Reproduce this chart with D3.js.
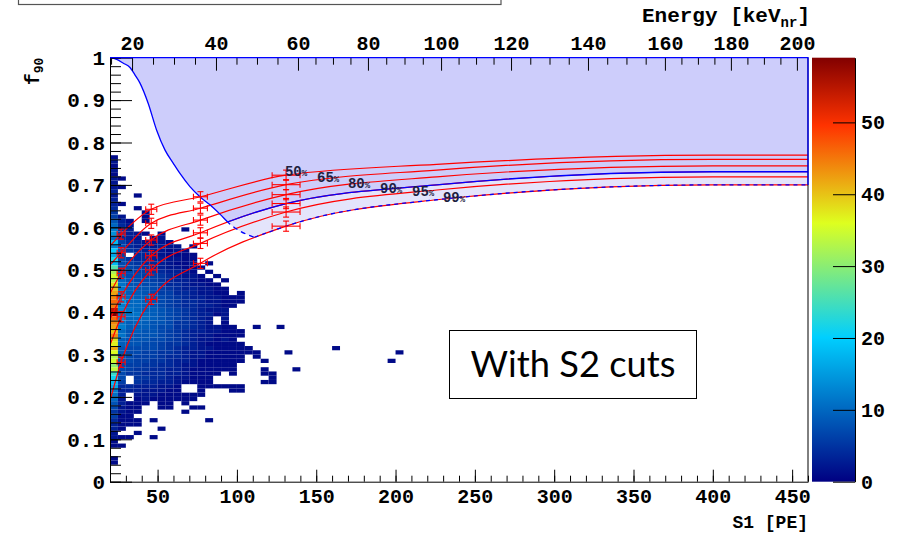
<!DOCTYPE html>
<html>
<head>
<meta charset="utf-8">
<script src="https://cdn.jsdelivr.net/npm/d3@7"></script>
<style>
  html, body { margin: 0; padding: 0; background: #fff; }
  svg { display: block; }
  text { font-family: "Liberation Mono", "DejaVu Sans Mono", monospace; font-weight: bold; }
</style>
</head>
<body>
<svg id="chart" width="902" height="535"></svg>
<script>
// ---------------- data ----------------
const s1Domain = [20, 460];
const f90Domain = [0, 1];
const s1Ticks = [50, 100, 150, 200, 250, 300, 350, 400, 450];
const s1MinorStep = 10;
const f90Ticks = [0, 0.1, 0.2, 0.3, 0.4, 0.5, 0.6, 0.7, 0.8, 0.9, 1];
const f90MinorStep = 0.02;

// nuclear-recoil energy axis (top): energy ticks and the S1 they sit at
const energyTicks  = [20, 40, 60, 80, 100, 120, 140, 160, 180, 200];
const energyTickS1 = [33.9, 86.8, 138.5, 182.6, 228.7, 272.8, 321.3, 369.8, 411.4, 453.0];
const energyMinorStep = 5;

// colour scale of the event histogram
const zMax = 59;
const zTicks = [0, 10, 20, 30, 40, 50];

// 2D event histogram: S1 bins of 5 PE from 20 PE, f90 bins of 0.01.
// One string per f90 row, from row 76 (f90 0.76-0.77) down to row 4.
// Each character is a bin count: '.'=0, 0-9, a-z = 10-35, A-X = 36-59.
const histS1Start = 20;
const histS1Bin = 5;
const histF90Bin = 0.01;
const histTopRow = 76;
const histRows = [
  "1", "2", "1", "2", "1", "21", "2", "21", "3", "2..1",
  "3", "31", "4..1", "5...1", "62..1", "831.1", "a42", "c53......1", "e6321.1", "a432.12",
  "i6432221", "c74322322.1", "k854332121", "g6.44321111", "m7544332211", "i7654432112.1",
  "q87654322111", "w8766543321.1", "z97766543221.1", "xa87765433211.1",
  "Cb887764432211", "Eb9887654332211", "Gc9987664432211.1", "Ida99876543322111",
  "Keaa9876544322111", "Jcaa987654433211", "Tdba99876543222", "Xcbba9876543312",
  "Kdaaa98765432.2", "Ib9a988755432.1", "Gc99987755432211..1..1", "Ea898876543322111",
  "Ib888876543221111", "C988877654322121", "B9887765543211111",
  "G87777654332211111..........1",
  "A877665543221111111...1.............1",
  "x8766654432211111.1",
  "z8766554332111111..1...............1",
  "u766554432211111", "y765544332111111...1...1", "o7554443321111.1...11",
  "l7.5544322111.......1", "i6.5443321111......11", "g44333221..111111",
  "c33322211..1...11", "b3.222111111", "a2.12111111", "83111.11.1", "7211..11..11",
  "5211.....1", "611", "4111.1......1", "3111", "31....1", "2..1", "211..1",
  "1", "11", "", "", "1", "1"
];

// nuclear-recoil acceptance contours (f90 versus S1)
const accNames = ["50%", "65%", "80%", "90%", "95%", "99%"];
const accS1    = [20, 27, 46, 77, 131, 226, 400, 460];
const acc50 = [0.556, 0.584, 0.6425, 0.672, 0.7229, 0.7486, 0.770, 0.770];
const acc65 = [0.511, 0.540, 0.6094, 0.645, 0.7005, 0.735, 0.760, 0.760];
const acc80 = [0.444, 0.4915, 0.570, 0.617, 0.677, 0.719, 0.745, 0.745];
const acc90 = [0.383, 0.436, 0.533, 0.587, 0.656, 0.700, 0.731, 0.731];
const acc95 = [0.322, 0.389, 0.4993, 0.562, 0.636, 0.688, 0.719, 0.719];
const acc99 = [0.191, 0.2816, 0.430, 0.515, 0.6027, 0.665, 0.700, 0.700];
// measured points on the contours: S1 half-width and f90 half-width of the error bars
const accS1Err = [0, 2.5, 3.5, 4.4, 8.8, 0, 0, 0];
const accF90Err = 0.012;
// contour label anchors
const accLabelS1  = [130.3, 150.5, 170.0, 190.2, 210.4, 229.9];
const accLabelF90 = [0.721, 0.707, 0.6927, 0.681, 0.673, 0.660];

// electron-recoil leakage boundary
const leakS1  = [20, 24.2, 28.4, 32.6, 35.8, 38.9, 44.1, 49.4, 54.7, 59.9, 64.1, 70.4, 76.7, 83.0, 89.3, 95.2, 112.5];
const leakF90 = [1.0, 0.996, 0.987, 0.977, 0.959, 0.940, 0.892, 0.829, 0.782, 0.751, 0.727, 0.696, 0.672, 0.653, 0.631, 0.609, 0.574];

// ---------------- layout ----------------
const L = 110, R = 808, T = 57.7, B = 481.7;
const barL = 812, barR = 855;

const svg = d3.select("#chart");
const defs = svg.append("defs");

const x = d3.scaleLinear().domain(s1Domain).range([L, R]);
const y = d3.scaleLinear().domain(f90Domain).range([B, T]);
const z = d3.scaleLinear().domain([0, zMax]).range([B, T]);

const palStops = [0, 0.34, 0.61, 0.84, 1.0];
const palCols = ["rgb(0,0,130)", "rgb(0,207,255)", "rgb(222,255,31)", "rgb(255,51,0)", "rgb(130,0,0)"];
const color = d3.scaleLinear().domain(palStops.map(t => t * zMax)).range(palCols).clamp(true);

// top-left title box (mostly outside the page)
svg.append("rect").attr("x", 18.5).attr("y", -30).attr("width", 482.5).attr("height", 34.5)
  .attr("fill", "#fff").attr("stroke", "#555").attr("stroke-width", 1.2);

// plot clip
defs.append("clipPath").attr("id", "plotClip").append("rect")
  .attr("x", L).attr("y", T).attr("width", R - L).attr("height", B - T);

// ---------------- histogram ----------------
const code = "0123456789abcdefghijklmnopqrstuvwxyzABCDEFGHIJKLMNOPQRSTUVWX";
const cells = [];
histRows.forEach((row, i) => {
  const j = histTopRow - i;
  [...row].forEach((ch, c) => {
    const v = code.indexOf(ch);
    if (v > 0) cells.push({ s1: histS1Start + c * histS1Bin, f: j * histF90Bin, v });
  });
});
svg.append("g").attr("clip-path", "url(#plotClip)")
  .selectAll("rect").data(cells).join("rect")
  .attr("x", d => x(d.s1))
  .attr("y", d => y(d.f + histF90Bin))
  .attr("width", d => x(d.s1 + histS1Bin) - x(d.s1))
  .attr("height", d => y(d.f) - y(d.f + histF90Bin))
  .attr("fill", d => color(d.v));

// ---------------- regions ----------------
const curveLine = vals => d3.line().x((d, i) => x(accS1[i])).y(d => y(d)).curve(d3.curveMonotoneX)(vals);
const leakPts = leakS1.map((s, i) => [s, leakF90[i]]);
const leakLine = d3.line().x(d => x(d[0])).y(d => y(d[1])).curve(d3.curveMonotoneX);
const lastLeak = leakS1[leakS1.length - 1];

// region above the leakage boundary
defs.append("clipPath").attr("id", "aboveLeak").append("path")
  .attr("d", leakLine(leakPts) +
    `L${x(lastLeak)},${y(0)}L${x(s1Domain[1])},${y(0)}L${x(s1Domain[1])},${y(1)}Z`);
// regions above / below the 90% contour
const area90Up = d3.area().x((d, i) => x(accS1[i])).y0(y(1)).y1(d => y(d)).curve(d3.curveMonotoneX);
const area90Dn = d3.area().x((d, i) => x(accS1[i])).y0(y(0)).y1(d => y(d)).curve(d3.curveMonotoneX);
defs.append("clipPath").attr("id", "above90").append("path").attr("d", area90Up(acc90));
defs.append("clipPath").attr("id", "below90").append("path").attr("d", area90Dn(acc90));

const gReg = svg.append("g").attr("clip-path", "url(#aboveLeak)");
gReg.append("path").attr("d", area90Up(acc90)).attr("fill", "#cdcdfb");
const area9099 = d3.area().x((d, i) => x(accS1[i])).y0(d => y(d[0])).y1(d => y(d[1])).curve(d3.curveMonotoneX);
gReg.append("path").attr("d", area9099(acc99.map((v, i) => [v, acc90[i]]))).attr("fill", "#e4e4fb");

// ---------------- contours ----------------
const accCurves = [acc50, acc65, acc80, acc90, acc95, acc99];
const gLines = svg.append("g").attr("clip-path", "url(#plotClip)");
accCurves.forEach(vals => {
  gLines.append("path").attr("d", curveLine(vals))
    .attr("fill", "none").attr("stroke", "#f00").attr("stroke-width", 1.2);
});

// blue boundaries
const gBlue = gLines.append("g");
gBlue.append("path").attr("d", curveLine(acc90)).attr("clip-path", "url(#aboveLeak)")
  .attr("fill", "none").attr("stroke", "#0000ff").attr("stroke-width", 1.3);
gBlue.append("path").attr("d", curveLine(acc99)).attr("clip-path", "url(#aboveLeak)")
  .attr("fill", "none").attr("stroke", "#0000ff").attr("stroke-width", 1.3).attr("stroke-dasharray", "4,4");
gBlue.append("path").attr("d", leakLine(leakPts)).attr("clip-path", "url(#above90)")
  .attr("fill", "none").attr("stroke", "#0000ff").attr("stroke-width", 1.3);
gBlue.append("path").attr("d", leakLine(leakPts)).attr("clip-path", "url(#below90)")
  .attr("fill", "none").attr("stroke", "#0000ff").attr("stroke-width", 1.3).attr("stroke-dasharray", "5,4");

// measured points with error bars
const gMarks = svg.append("g").attr("stroke", "#f00").attr("stroke-width", 1.1);
accCurves.forEach(vals => {
  accS1.forEach((s, i) => {
    const e = accS1Err[i];
    if (!e) return;
    const cx = x(s), cy = y(vals[i]);
    const x0 = x(s - e), x1 = x(s + e);
    const y0 = y(vals[i] - accF90Err), y1 = y(vals[i] + accF90Err);
    gMarks.append("line").attr("x1", x0).attr("x2", x1).attr("y1", cy).attr("y2", cy);
    gMarks.append("line").attr("x1", cx).attr("x2", cx).attr("y1", y0).attr("y2", y1);
    [x0, x1].forEach(xx => gMarks.append("line").attr("x1", xx).attr("x2", xx).attr("y1", cy - 3).attr("y2", cy + 3));
    [y0, y1].forEach(yy => gMarks.append("line").attr("x1", cx - 3).attr("x2", cx + 3).attr("y1", yy).attr("y2", yy));
  });
});

// contour labels
accNames.forEach((name, i) => {
  const t = svg.append("text").attr("x", x(accLabelS1[i])).attr("y", y(accLabelF90[i]))
    .attr("font-size", 14).attr("fill", "#1f1f3f");
  t.append("tspan").text(name.replace("%", ""));
  t.append("tspan").attr("font-size", 9).text("%");
});

// ---------------- frame & axes ----------------
svg.append("line").attr("x1", R).attr("x2", R).attr("y1", T).attr("y2", B).attr("stroke", "#000");

const gL = svg.append("g").attr("transform", `translate(${L},0)`)
  .call(d3.axisLeft(y).tickValues(f90Ticks).tickSize(-22).tickSizeOuter(0).tickPadding(5).tickFormat(d3.format("~g")));
gL.attr("font-size", 21);
svg.append("g").attr("transform", `translate(${L},0)`)
  .call(d3.axisLeft(y).tickValues(d3.range(0, 1.0001, f90MinorStep)).tickSize(-11).tickFormat(""))
  .call(g => g.select(".domain").remove());

const gB = svg.append("g").attr("transform", `translate(0,${B})`)
  .call(d3.axisBottom(x).tickValues(s1Ticks).tickSize(-12).tickSizeOuter(0).tickPadding(7));
gB.attr("font-size", 20);
svg.append("g").attr("transform", `translate(0,${B})`)
  .call(d3.axisBottom(x).tickValues(d3.range(s1Domain[0], s1Domain[1] + 0.1, s1MinorStep)).tickSize(-6).tickFormat(""))
  .call(g => g.select(".domain").remove());

// top energy axis
const eX = d3.scaleLinear().domain(energyTicks).range(energyTickS1.map(s => x(s)));
const gT = svg.append("g").attr("transform", `translate(0,${T})`)
  .call(d3.axisTop(eX).tickValues(energyTicks).tickSize(-13).tickSizeOuter(0).tickPadding(8))
  .call(g => g.select(".domain").remove());
gT.attr("font-size", 20);
const eMinor = d3.range(15, 201, energyMinorStep).filter(e => e % 20 !== 0);
svg.append("g").attr("transform", `translate(0,${T})`)
  .call(d3.axisTop(eX).tickValues(eMinor).tickSize(-7).tickFormat(""))
  .call(g => g.select(".domain").remove());

// blue outline along the top and right of the shaded region
svg.append("path")
  .attr("d", `M${L},${T}H${R}V${y(acc99[acc99.length - 1])}`)
  .attr("fill", "none").attr("stroke", "#0000ff").attr("stroke-width", 1.3);

// axis titles
const yt = svg.append("text").attr("transform", `translate(39,${T}) rotate(-90)`)
  .attr("text-anchor", "end").attr("font-size", 20);
yt.append("tspan").text("f");
yt.append("tspan").attr("font-size", 13).attr("dy", 4).text("90");

svg.append("text").attr("x", R).attr("y", 528).attr("text-anchor", "end")
  .attr("font-size", 18).text("S1 [PE]");

const et = svg.append("text").attr("x", 810).attr("y", 22).attr("text-anchor", "end").attr("font-size", 21);
et.append("tspan").text("Energy [keV");
et.append("tspan").attr("font-size", 14).attr("dy", 5).text("nr");
et.append("tspan").attr("dy", -5).text("]");

// ---------------- colour bar ----------------
const grad = defs.append("linearGradient").attr("id", "pal")
  .attr("x1", 0).attr("y1", 1).attr("x2", 0).attr("y2", 0);
palStops.forEach((s, i) => grad.append("stop").attr("offset", s).attr("stop-color", palCols[i]));
svg.append("rect").attr("x", barL).attr("y", T).attr("width", barR - barL).attr("height", B - T)
  .attr("fill", "url(#pal)");
const gZ = svg.append("g").attr("transform", `translate(${barR},0)`)
  .call(d3.axisRight(z).tickValues(zTicks).tickSize(-22).tickSizeOuter(0).tickPadding(6));
gZ.attr("font-size", 20);

// ---------------- annotation ----------------
svg.append("rect").attr("x", 449.5).attr("y", 330.5).attr("width", 247).attr("height", 68)
  .attr("fill", "#fff").attr("stroke", "#000").attr("stroke-width", 1);
svg.append("text").attr("x", 573).attr("y", 377).attr("text-anchor", "middle")
  .style("font-family", "Lato, 'Open Sans', sans-serif").style("font-weight", "normal")
  .attr("font-size", 37).attr("textLength", 205).attr("lengthAdjust", "spacingAndGlyphs")
  .text("With S2 cuts");
</script>
</body>
</html>
